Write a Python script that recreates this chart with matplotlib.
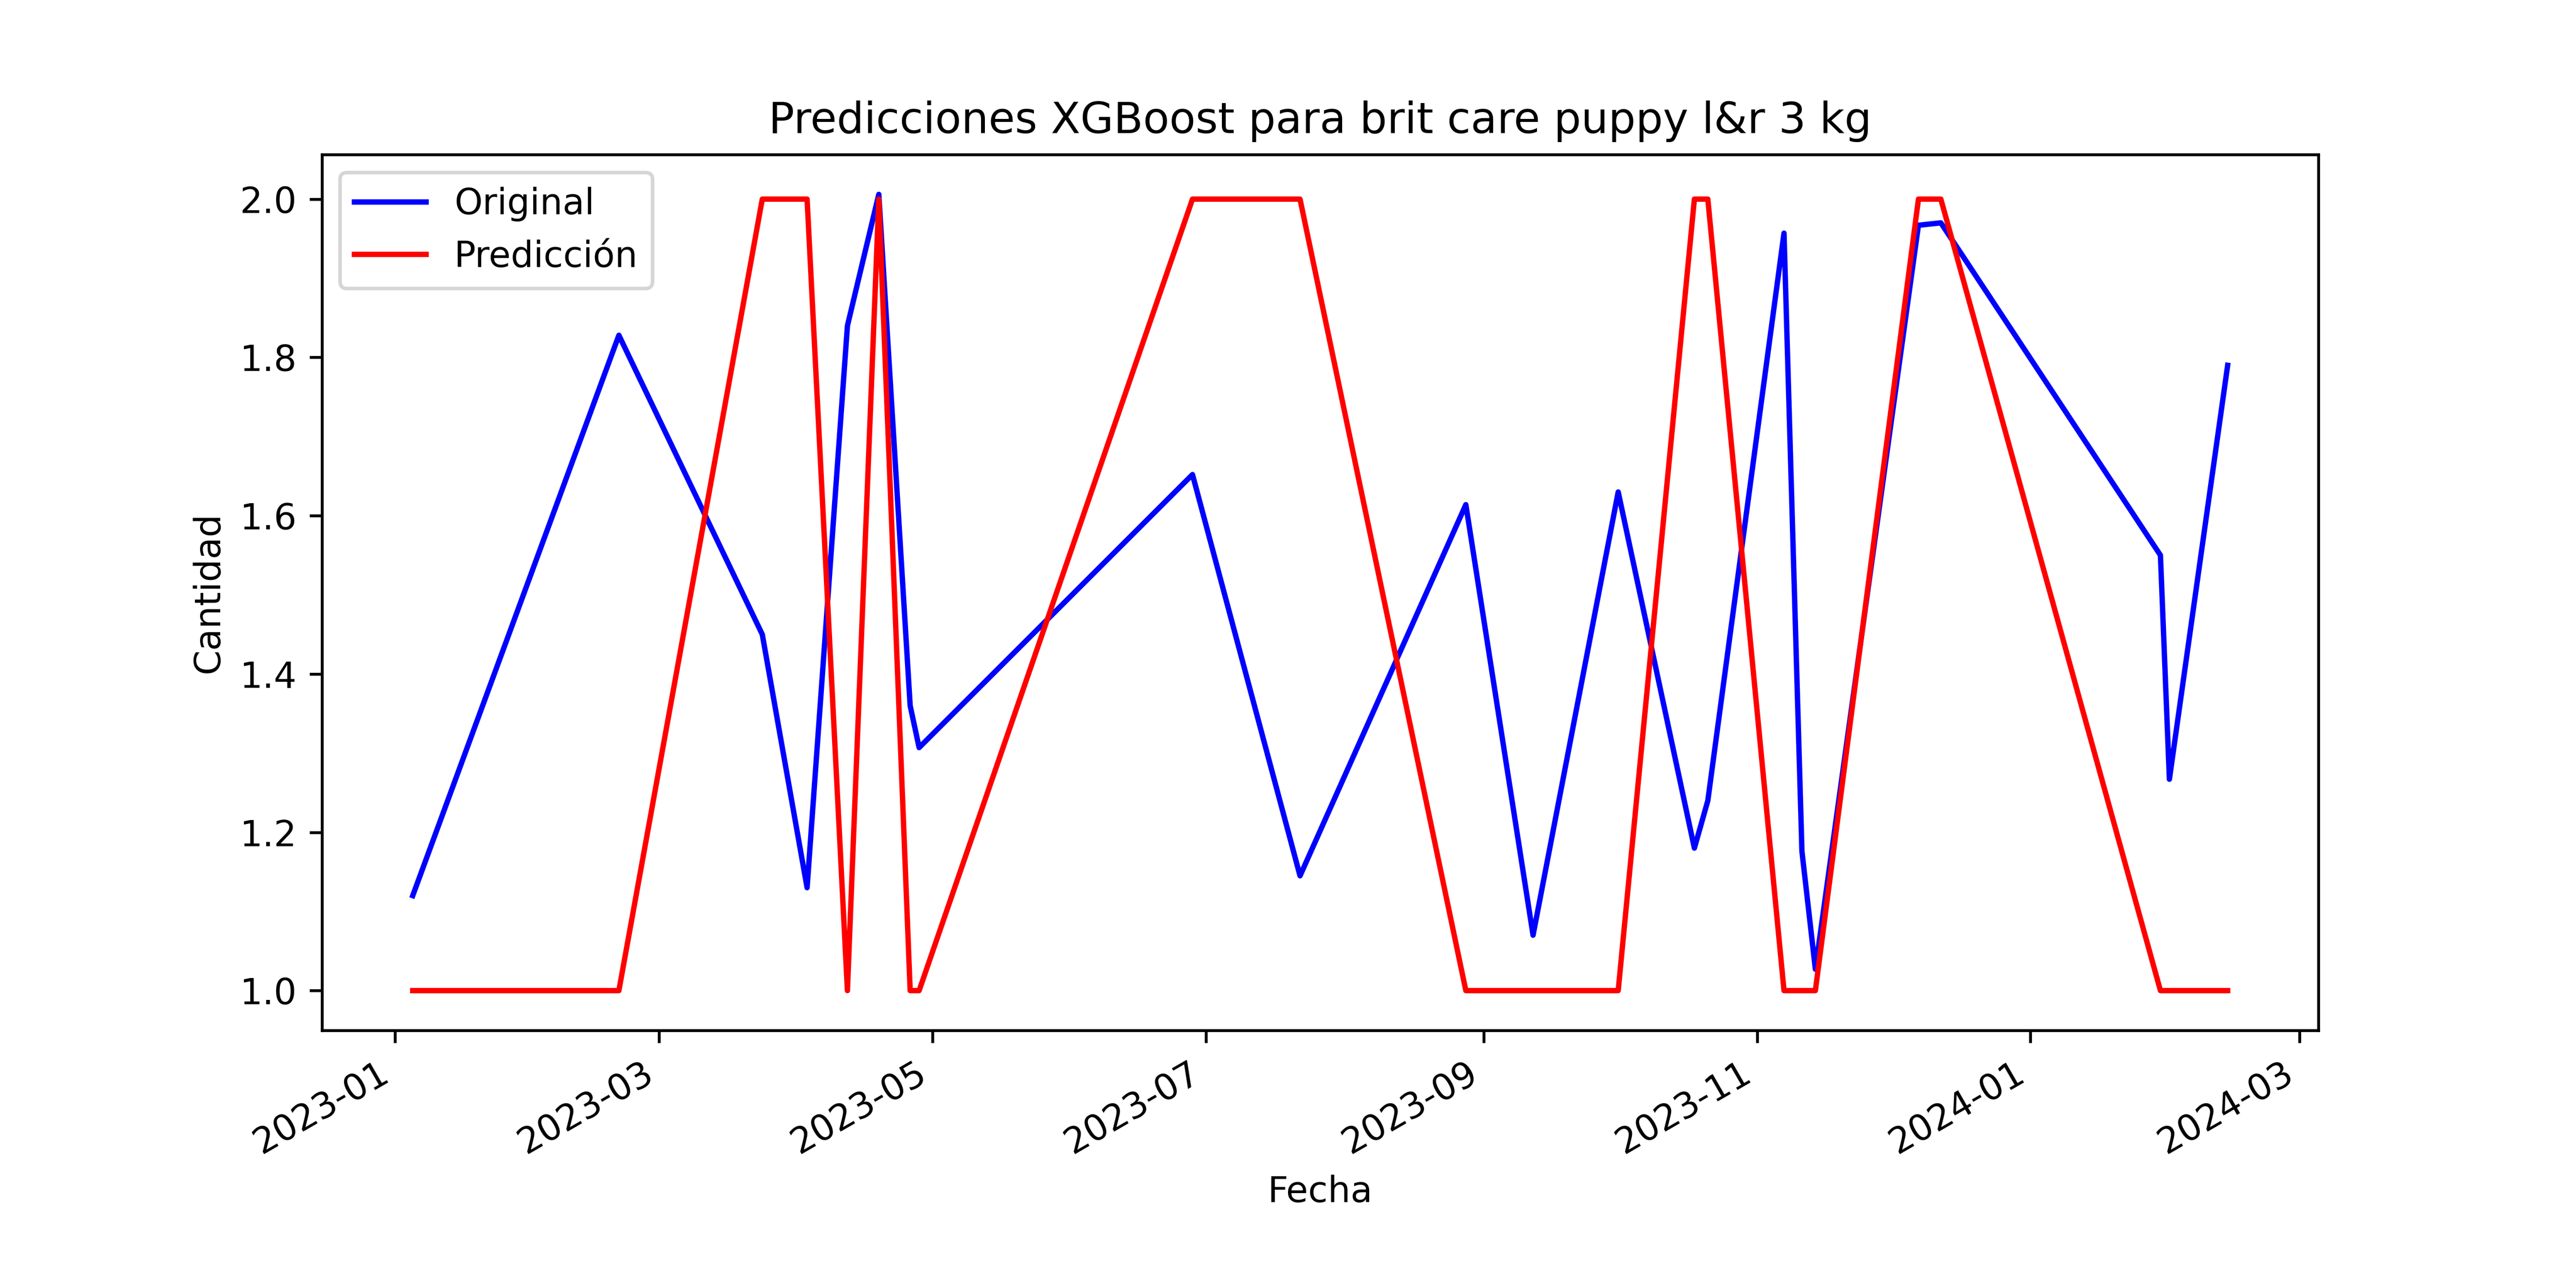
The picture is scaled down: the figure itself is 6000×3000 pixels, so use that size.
import numpy as np
import pandas as pd
import matplotlib
matplotlib.use('Agg')
import matplotlib.pyplot as plt

# Data
fechas = pd.to_datetime([
    '2023-01-05', '2023-02-20', '2023-03-24', '2023-04-03', '2023-04-12',
    '2023-04-19', '2023-04-26', '2023-04-28', '2023-06-28', '2023-07-22',
    '2023-08-28', '2023-09-12', '2023-10-01', '2023-10-18', '2023-10-21',
    '2023-11-07', '2023-11-11', '2023-11-14', '2023-12-07', '2023-12-12',
    '2024-01-30', '2024-02-01', '2024-02-14'])
original = [1.12, 1.828, 1.45, 1.13, 1.84,
            2.006, 1.36, 1.307, 1.652, 1.145,
            1.614, 1.07, 1.63, 1.18, 1.24,
            1.957, 1.176, 1.027, 1.967, 1.97,
            1.55, 1.267, 1.79]
prediccion = [1, 1, 2, 2, 1,
              2, 1, 1, 2, 2,
              1, 1, 1, 2, 2,
              1, 1, 1, 2, 2,
              1, 1, 1]

fig, ax = plt.subplots(figsize=(10, 5))
ax.plot(fechas, original, color='blue', label='Original')
ax.plot(fechas, prediccion, color='red', label='Predicción')
ax.set_title('Predicciones XGBoost para brit care puppy l&r 3 kg')
ax.set_xlabel('Fecha')
ax.set_ylabel('Cantidad')
ax.legend(loc='upper left')
fig.autofmt_xdate()
plt.savefig('out.png', dpi=600)
